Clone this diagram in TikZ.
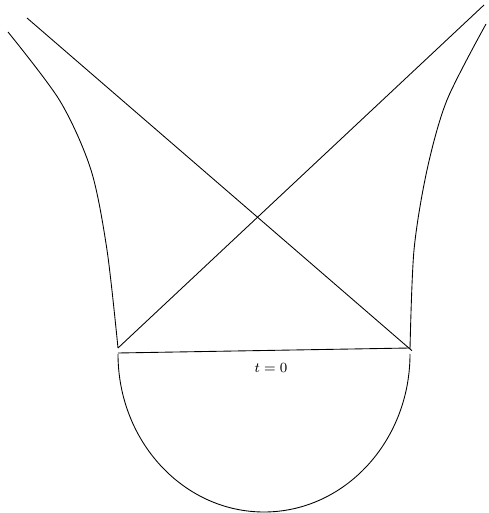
\documentclass[tikz,border=0pt]{standalone}
\usetikzlibrary{positioning,calc}
\tikzset{curve/.style={line width=.5pt,black}}

\begin{document}
\begin{tikzpicture}[x=.02cm,y=.02cm]
  \useasboundingbox (0,0) rectangle (488,513);
  \coordinate (L) at (118,165);
  \coordinate (R) at (410,164);
  \coordinate (tl) at (27,495);
  \coordinate (tr) at (484,508);
  % null lines
  \draw[curve] (tl) -- ($(tl)!1.005!(R)$);
  \draw[curve] (L) -- (tr);
  % slice t=0
  \draw[curve] (118,160) -- (410,165);
  \node[font=\footnotesize] (t0) at (271,145){$t=0$};
  \draw[curve] (118,159) arc[start angle=180,end angle=360,x radius=146,y radius=158];
  % boundaries
  \draw[curve] plot[smooth] coordinates {(8,481) (60,412) (91,343) (107,263) (L)};
  \draw[curve] plot[smooth] coordinates {(486,489) (447,413) (427,343) (414,263) (R)};
\end{tikzpicture}
\end{document}
